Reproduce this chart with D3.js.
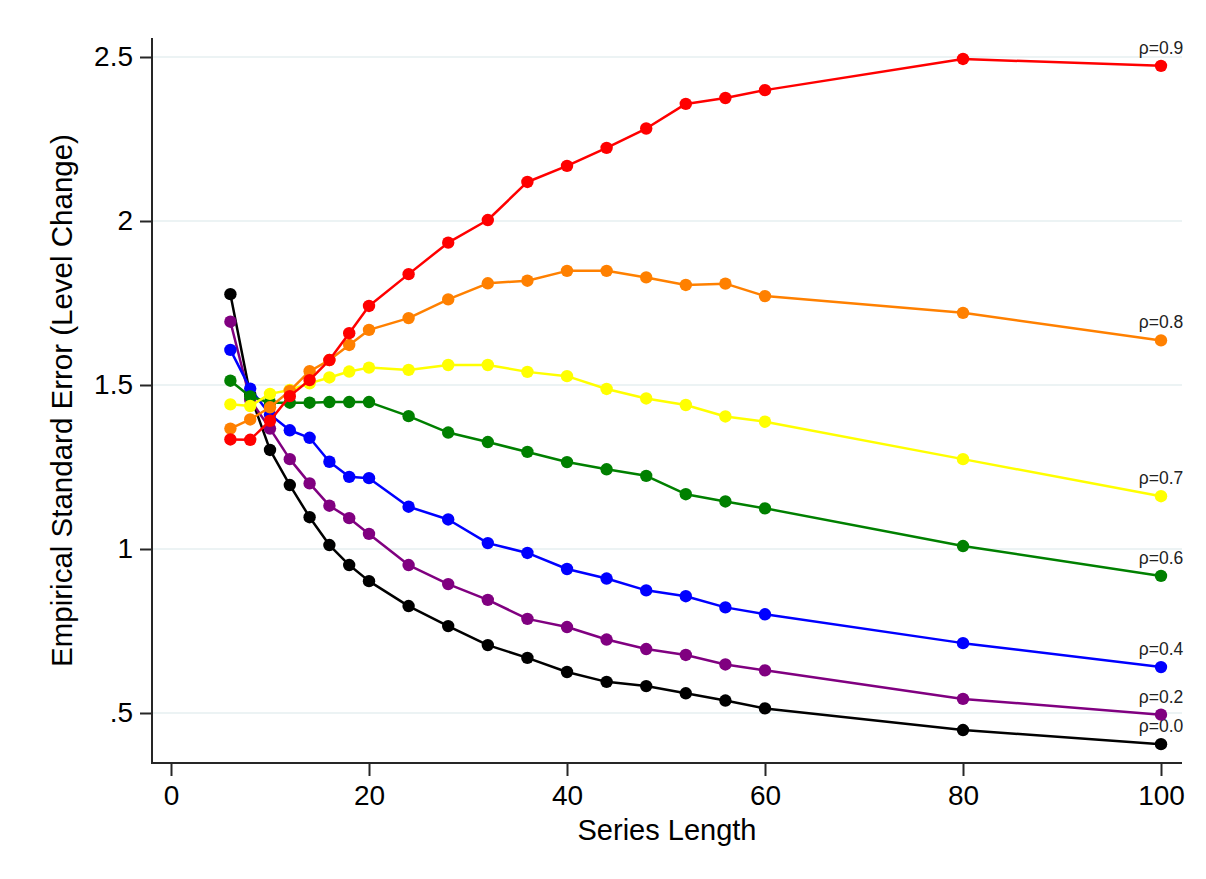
<!DOCTYPE html>
<html>
<head>
<meta charset="utf-8">
<script src="https://cdn.jsdelivr.net/npm/d3@7"></script>
<style>
  html, body { margin: 0; padding: 0; background: #fff; }
  svg { display: block; font-family: "Liberation Sans", Arial, sans-serif; }
</style>
</head>
<body>
<svg id="chart" width="1206" height="879"></svg>
<script>
// ---- data ----
const seriesLength = [6, 8, 10, 12, 14, 16, 18, 20, 24, 28, 32, 36, 40, 44, 48, 52, 56, 60, 80, 100];
const rho00 = [1.777, 1.470, 1.302, 1.195, 1.097, 1.012, 0.951, 0.902, 0.826, 0.765, 0.707, 0.668, 0.625, 0.595, 0.582, 0.560, 0.538, 0.514, 0.448, 0.405];
const rho02 = [1.693, 1.455, 1.367, 1.274, 1.200, 1.132, 1.094, 1.046, 0.951, 0.893, 0.845, 0.787, 0.762, 0.724, 0.695, 0.677, 0.648, 0.630, 0.543, 0.495];
const rho04 = [1.607, 1.489, 1.410, 1.362, 1.339, 1.266, 1.220, 1.216, 1.129, 1.090, 1.018, 0.988, 0.939, 0.910, 0.874, 0.856, 0.822, 0.801, 0.713, 0.640];
const rho06 = [1.513, 1.465, 1.446, 1.446, 1.446, 1.448, 1.448, 1.448, 1.405, 1.355, 1.326, 1.296, 1.265, 1.243, 1.223, 1.167, 1.145, 1.124, 1.009, 0.918];
const rho07 = [1.441, 1.436, 1.473, 1.485, 1.505, 1.523, 1.541, 1.553, 1.546, 1.561, 1.561, 1.540, 1.527, 1.488, 1.459, 1.439, 1.404, 1.388, 1.274, 1.161];
const rho08 = [1.367, 1.395, 1.432, 1.482, 1.542, 1.576, 1.622, 1.668, 1.704, 1.761, 1.810, 1.818, 1.848, 1.848, 1.828, 1.805, 1.809, 1.771, 1.720, 1.636];
const rho09 = [1.334, 1.333, 1.391, 1.466, 1.515, 1.576, 1.658, 1.741, 1.838, 1.934, 2.003, 2.119, 2.168, 2.223, 2.282, 2.357, 2.375, 2.399, 2.494, 2.473];
const seriesNames = ["ρ=0.0", "ρ=0.2", "ρ=0.4", "ρ=0.6", "ρ=0.7", "ρ=0.8", "ρ=0.9"];
const seriesColors = ["#000000", "#800080", "#0000ff", "#008000", "#ffff00", "#ff8000", "#ff0000"];
const xTicks = [0, 20, 40, 60, 80, 100];
const yTicks = [0.5, 1, 1.5, 2, 2.5];
const yTickLabels = [".5", "1", "1.5", "2", "2.5"];

const seriesValues = [rho00, rho02, rho04, rho06, rho07, rho08, rho09];

// ---- layout ----
const plot = { left: 152, right: 1182, top: 38, bottom: 763 };
const x = d3.scaleLinear().domain([0, 100]).range([171, 1161]);
const y = d3.scaleLinear().domain([0.5, 2.5]).range([713, 57]);

const svg = d3.select("#chart");
svg.append("rect").attr("width", 1206).attr("height", 879).attr("fill", "#fff");

// gridlines
svg.append("g").selectAll("line").data(yTicks).join("line")
  .attr("x1", plot.left).attr("x2", plot.right)
  .attr("y1", d => y(d)).attr("y2", d => y(d))
  .attr("stroke", "#e6eff1").attr("stroke-width", 1.6);

// y axis
const yAxis = d3.axisLeft(y).tickValues(yTicks)
  .tickFormat((d, i) => yTickLabels[i]).tickSize(11).tickPadding(7);
const gy = svg.append("g").attr("transform", `translate(${plot.left - 1},0)`).call(yAxis);
gy.select(".domain").remove();
gy.selectAll(".tick line").attr("stroke", "#262626").attr("stroke-width", 2);
gy.selectAll(".tick text").attr("font-size", 28).attr("fill", "#000")
  .attr("font-family", "'Liberation Sans', Arial, sans-serif");

// x axis
const xAxis = d3.axisBottom(x).tickValues(xTicks).tickFormat(d3.format("d"))
  .tickSize(12).tickPadding(9);
const gx = svg.append("g").attr("transform", `translate(0,${plot.bottom + 1})`).call(xAxis);
gx.select(".domain").remove();
gx.selectAll(".tick line").attr("stroke", "#262626").attr("stroke-width", 2);
gx.selectAll(".tick text").attr("font-size", 28).attr("fill", "#000")
  .attr("font-family", "'Liberation Sans', Arial, sans-serif");

// axis lines
svg.append("line").attr("x1", plot.left).attr("x2", plot.left)
  .attr("y1", plot.top).attr("y2", plot.bottom + 1)
  .attr("stroke", "#262626").attr("stroke-width", 2);
svg.append("line").attr("x1", plot.left - 1).attr("x2", plot.right)
  .attr("y1", plot.bottom).attr("y2", plot.bottom)
  .attr("stroke", "#262626").attr("stroke-width", 2);

// titles
svg.append("text").attr("x", (plot.left + plot.right) / 2).attr("y", 840)
  .attr("text-anchor", "middle").attr("font-size", 29).attr("fill", "#000")
  .text("Series Length");
svg.append("text").attr("transform", `translate(72,${(plot.top + plot.bottom) / 2}) rotate(-90)`)
  .attr("text-anchor", "middle").attr("font-size", 29.5).attr("fill", "#000")
  .text("Empirical Standard Error (Level Change)");

// series
const line = d3.line().x(d => x(d[0])).y(d => y(d[1]));
seriesValues.forEach((vals, si) => {
  const pts = seriesLength.map((s, i) => [s, vals[i]]);
  const g = svg.append("g");
  g.append("path").datum(pts).attr("d", line)
    .attr("fill", "none").attr("stroke", seriesColors[si]).attr("stroke-width", 2.5)
    .attr("stroke-linejoin", "round");
  g.selectAll("circle").data(pts).join("circle")
    .attr("cx", d => x(d[0])).attr("cy", d => y(d[1])).attr("r", 6.2)
    .attr("fill", seriesColors[si]);
  const last = pts[pts.length - 1];
  svg.append("text").attr("x", x(last[0])).attr("y", y(last[1]) - 12)
    .attr("text-anchor", "middle").attr("font-size", 17.5).attr("fill", "#222")
    .text(seriesNames[si]);
});
</script>
</body>
</html>
